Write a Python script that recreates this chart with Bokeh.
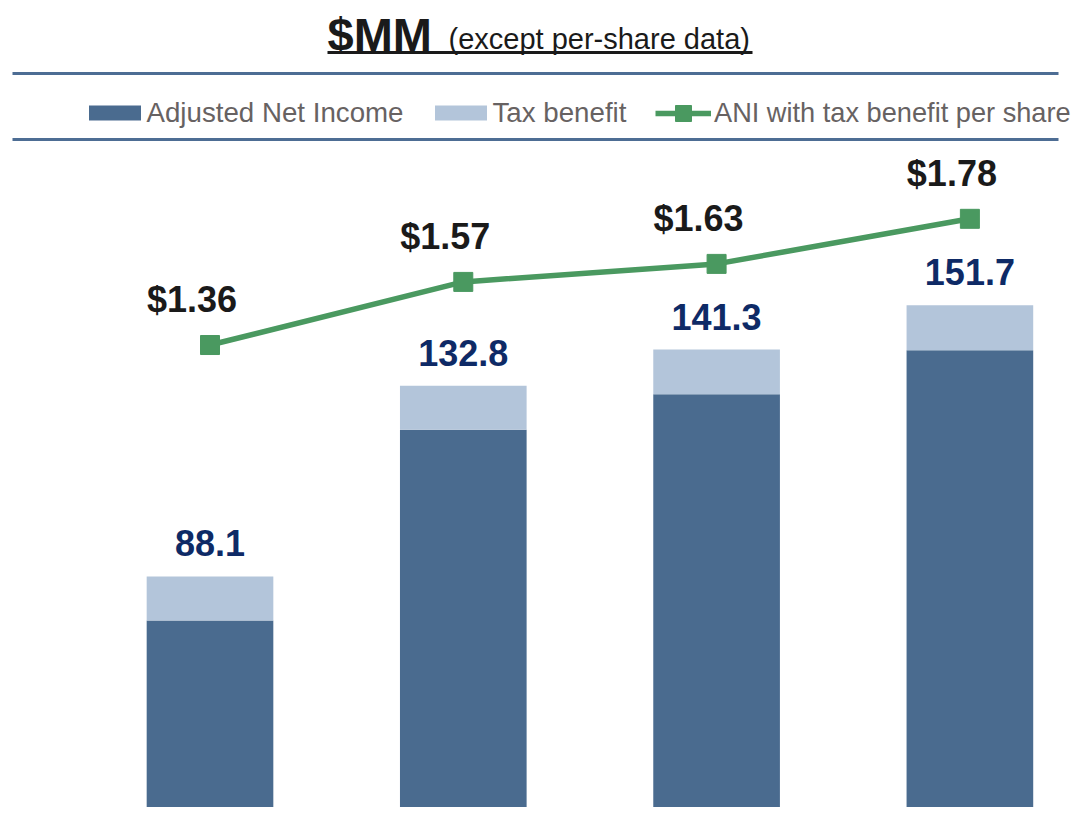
from bokeh.plotting import figure
from bokeh.models import (ColumnDataSource, Range1d, LabelSet, Label,
                          BoxAnnotation, Legend, LegendItem)
from bokeh.core.properties import value
from bokeh.embed import file_html
from bokeh.resources import INLINE

# ---------------- data ----------------
period_index = [0, 1, 2, 3]
adjusted_net_income = [77.8, 122.5, 130.8, 141.1]
tax_benefit = [10.3, 10.3, 10.5, 10.6]
eps_with_tax_benefit = [1.36, 1.57, 1.63, 1.78]

series_names = ["Adjusted Net Income", "Tax benefit", "ANI with tax benefit per share"]
title_main = "$MM"
title_sub = "(except per-share data)"

# ---------------- styles ----------------
DARK = "#4A6B8F"
LIGHT = "#B3C5DA"
GREEN = "#4A9960"
RULE = "#4D6D94"
NAVY = "#0E2A66"
BLACK = "#1A1A1A"
GREY = "#676262"
FONT = "Liberation Sans"

W, H = 1076, 807

totals = [a + t for a, t in zip(adjusted_net_income, tax_benefit)]
src = ColumnDataSource(dict(
    x=period_index,
    ani=adjusted_net_income,
    tax=tax_benefit,
    total=totals,
    total_txt=[f"{v:.1f}" for v in totals],
    eps=eps_with_tax_benefit,
    eps_txt=[f"${v:.2f}" for v in eps_with_tax_benefit],
))

p = figure(width=W, height=H, output_backend="svg", toolbar_location=None,
           x_range=Range1d(-0.8271, 3.4209), y_range=Range1d(33.94, 223.11),
           x_axis_location=None, y_axis_location=None,
           min_border=0, min_border_left=0, min_border_right=0,
           min_border_top=0, min_border_bottom=0,
           outline_line_color=None, background_fill_color="white",
           border_fill_color="white")
p.grid.visible = False
p.extra_y_ranges = {"eps": Range1d(-0.179, 2.5065)}

bars = p.vbar_stack(["ani", "tax"], x="x", width=0.5, color=[DARK, LIGHT],
                    line_color=None, source=src)

ln = p.line("x", "eps", source=src, y_range_name="eps", line_color=GREEN,
            line_width=5.5)
pts = p.scatter("x", "eps", source=src, y_range_name="eps", marker="square",
                size=19, fill_color=GREEN, line_color=GREEN)

p.add_layout(LabelSet(x="x", y="total", text="total_txt", source=src,
                      text_align="center", text_baseline="alphabetic",
                      y_offset=20, text_font=value(FONT),
                      text_font_style="bold", text_font_size="36px",
                      text_color=NAVY))
p.add_layout(LabelSet(x="x", y="eps", y_range_name="eps", text="eps_txt",
                      source=src, text_align="center",
                      text_baseline="alphabetic", x_offset=-18, y_offset=33,
                      text_font=value(FONT), text_font_style="bold",
                      text_font_size="36px", text_color=BLACK))

# ---------------- title ----------------
p.add_layout(Label(x=327, y=773, x_units="screen", y_units="screen",
                   text=title_main, text_font=FONT, text_font_style="bold",
                   text_font_size="47px", text_color=BLACK,
                   text_baseline="middle", text_align="left"))
p.add_layout(Label(x=448, y=768.5, x_units="screen", y_units="screen",
                   text=title_sub, text_font=FONT, text_font_size="29px",
                   text_color=BLACK, text_baseline="middle",
                   text_align="left"))
p.add_layout(BoxAnnotation(left=327, right=752, bottom=753.5, top=756.5,
                           left_units="screen", right_units="screen",
                           bottom_units="screen", top_units="screen",
                           fill_color=BLACK, fill_alpha=1, line_alpha=0))

# rules around the legend
for b, t in [(732.5, 735.5), (666.5, 669.5)]:
    p.add_layout(BoxAnnotation(left=12, right=1058, bottom=b, top=t,
                               left_units="screen", right_units="screen",
                               bottom_units="screen", top_units="screen",
                               fill_color=RULE, fill_alpha=1, line_alpha=0))

# ---------------- legends ----------------
common = dict(orientation="horizontal", padding=0, margin=0,
              border_line_alpha=0, background_fill_alpha=0,
              label_text_font=FONT, label_text_color=GREY)
leg1 = Legend(items=[LegendItem(label=series_names[0], renderers=[bars[0]]),
                     LegendItem(label=series_names[1], renderers=[bars[1]])],
              location=(81.5, 678.5), glyph_width=65, glyph_height=19,
              label_standoff=0, spacing=24, label_text_font_size="27.7px",
              **common)
leg2 = Legend(items=[LegendItem(label=series_names[2], renderers=[ln, pts])],
              location=(655, 674), glyph_width=56, glyph_height=40,
              label_standoff=3, label_text_font_size="27.2px", **common)
p.add_layout(leg1, "center")
p.add_layout(leg2, "center")

open("out.html", "w").write(file_html(p, INLINE))
